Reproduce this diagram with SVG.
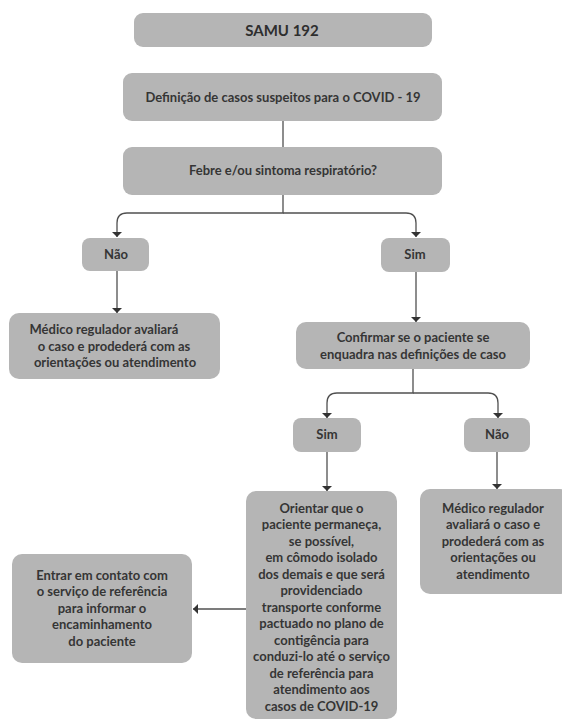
<svg xmlns="http://www.w3.org/2000/svg" width="562" height="720" viewBox="0 0 562 720">
<defs>
<marker id="ah" markerUnits="userSpaceOnUse" markerWidth="12" markerHeight="8" refX="6" refY="6" orient="0" viewBox="0 0 12 8">
<path d="M1,1 L11,1 L6,6 Z" fill="#333"/>
</marker>
<marker id="al" markerUnits="userSpaceOnUse" markerWidth="8" markerHeight="12" refX="1" refY="6" viewBox="0 0 8 12">
<path d="M1,6 L6,1 L6,11 Z" fill="#333"/>
</marker>
</defs>
<style>
.box{fill:#b5b5b5;}
.t{font-family:Lato,"Open Sans","Liberation Sans",sans-serif;font-weight:700;font-size:13px;fill:#353535;text-anchor:middle;}
.c{fill:none;stroke:#505050;stroke-width:1.3;}
</style>
<rect width="562" height="720" fill="#fff"/>
<g id="connectors">
<path class="c" d="M283,121 V147"/>
<path class="c" d="M283,195 V213 H127 Q117,213 117,223 V237" marker-end="url(#ah)"/>
<path class="c" d="M283,213 H406 Q416,213 416,223 V237" marker-end="url(#ah)"/>
<path class="c" d="M117,271 V313" marker-end="url(#ah)"/>
<path class="c" d="M416,272 V322" marker-end="url(#ah)"/>
<path class="c" d="M413,369 V393 H337 Q327,393 327,403 V418" marker-end="url(#ah)"/>
<path class="c" d="M413,393 H488 Q498,393 498,403 V418" marker-end="url(#ah)"/>
<path class="c" d="M327,452 V491" marker-end="url(#ah)"/>
<path class="c" d="M497,452 V489" marker-end="url(#ah)"/>
<path class="c" d="M246,609 H193" marker-end="url(#al)"/>
</g>
<g id="samu">
<rect class="box" x="134" y="13" width="298" height="34" rx="9"/>
<text class="t" x="282" y="35.5" style="font-size:15px;fill:#2e2e2e">SAMU 192</text>
</g>
<g id="definicao">
<rect class="box" x="123" y="73" width="319" height="48" rx="9"/>
<text class="t" x="283" y="102">Definição de casos suspeitos para o COVID - 19</text>
</g>
<g id="febre">
<rect class="box" x="123" y="147" width="319" height="48" rx="9"/>
<text class="t" x="283" y="175">Febre e/ou sintoma respiratório?</text>
</g>
<g id="nao1">
<rect class="box" x="82" y="238" width="67" height="33" rx="8"/>
<text class="t" x="116" y="259">Não</text>
</g>
<g id="sim1">
<rect class="box" x="381" y="238" width="69" height="34" rx="8"/>
<text class="t" x="415" y="259">Sim</text>
</g>
<g id="medico1">
<rect class="box" x="9" y="313" width="211" height="66" rx="10"/>
<text class="t" x="104" y="334">Médico regulador avaliará</text>
<text class="t" x="114" y="351">o caso e prodederá com as</text>
<text class="t" x="115" y="367">orientações ou atendimento</text>
</g>
<g id="confirmar">
<rect class="box" x="296" y="322" width="234" height="47" rx="10"/>
<text class="t" x="413" y="342">Confirmar se o paciente se</text>
<text class="t" x="413" y="359">enquadra nas definições de caso</text>
</g>
<g id="sim2">
<rect class="box" x="293" y="418" width="68" height="34" rx="8"/>
<text class="t" x="327" y="439">Sim</text>
</g>
<g id="nao2">
<rect class="box" x="464" y="418" width="66" height="34" rx="8"/>
<text class="t" x="497" y="439">Não</text>
</g>
<g id="orientar">
<rect class="box" x="246" y="491" width="151" height="228" rx="10"/>
<text class="t" x="321.5" y="512.5">Orientar que o</text>
<text class="t" x="321.5" y="529">paciente permaneça,</text>
<text class="t" x="321.5" y="545.5">se possível,</text>
<text class="t" x="321.5" y="562">em cômodo isolado</text>
<text class="t" x="321.5" y="578.5">dos demais e que será</text>
<text class="t" x="321.5" y="595">providenciado</text>
<text class="t" x="321.5" y="611.5">transporte conforme</text>
<text class="t" x="321.5" y="628">pactuado no plano de</text>
<text class="t" x="321.5" y="644.5">contigência para</text>
<text class="t" x="321.5" y="661">conduzi-lo até o serviço</text>
<text class="t" x="321.5" y="677.5">de referência para</text>
<text class="t" x="321.5" y="694">atendimento aos</text>
<text class="t" x="321.5" y="710.5">casos de COVID-19</text>
</g>
<g id="medico2">
<rect class="box" x="420" y="489" width="150" height="105" rx="10"/>
<text class="t" x="493" y="512.5">Médico regulador</text>
<text class="t" x="493" y="529">avaliará o caso e</text>
<text class="t" x="493" y="545.5">prodederá com as</text>
<text class="t" x="493" y="562">orientações ou</text>
<text class="t" x="493" y="578.5">atendimento</text>
</g>
<g id="entrar">
<rect class="box" x="12" y="554" width="180" height="109" rx="10"/>
<text class="t" x="102" y="579.5">Entrar em contato com</text>
<text class="t" x="102" y="596">o serviço de referência</text>
<text class="t" x="102" y="612.5">para informar o</text>
<text class="t" x="102" y="629">encaminhamento</text>
<text class="t" x="102" y="645.5">do paciente</text>
</g>
</svg>
